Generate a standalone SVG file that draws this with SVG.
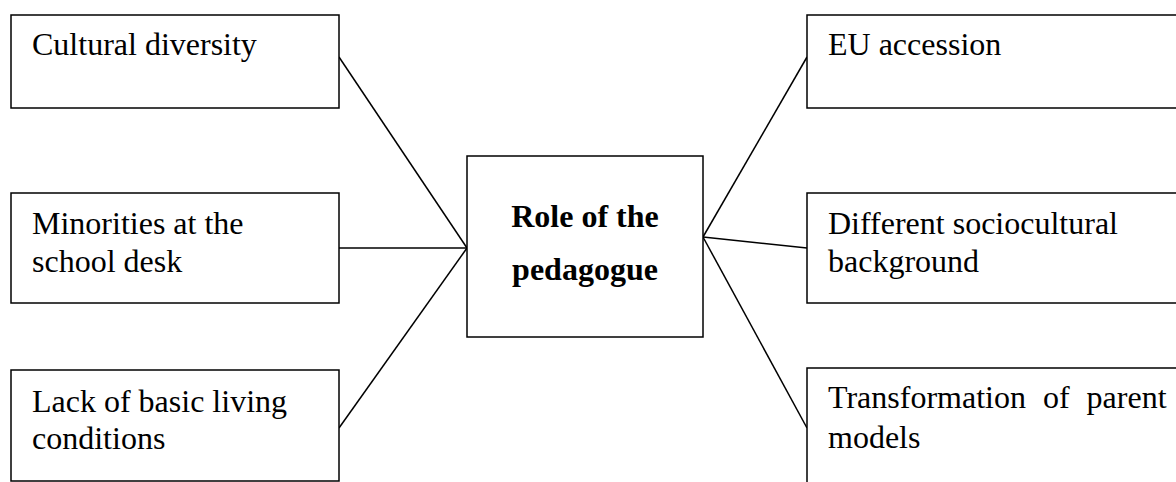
<svg xmlns="http://www.w3.org/2000/svg" width="1176" height="482" viewBox="0 0 1176 482">
<style>
.box{fill:#fff;stroke:#000;stroke-width:1.5}
.lbl{font-family:"Liberation Serif","Times New Roman",serif;font-size:32px;fill:#000}
.ctr{font-family:"Liberation Serif","Times New Roman",serif;font-size:32px;font-weight:bold;fill:#000;text-anchor:middle}
.con{stroke:#000;stroke-width:1.5;fill:none}
</style>
<rect width="1176" height="482" fill="#fff"/>
<g id="connectors">
<line class="con" x1="339" y1="57" x2="467" y2="248"/>
<line class="con" x1="339" y1="248" x2="467" y2="248"/>
<line class="con" x1="339" y1="428" x2="467" y2="248"/>
<line class="con" x1="703" y1="237" x2="807" y2="57"/>
<line class="con" x1="703" y1="237" x2="807" y2="248"/>
<line class="con" x1="703" y1="237" x2="807" y2="428"/>
</g>
<g id="n-cultural">
<rect class="box" x="11" y="15" width="328" height="93"/>
<text class="lbl" x="32" y="55">Cultural diversity</text>
</g>
<g id="n-minorities">
<rect class="box" x="11" y="193" width="328" height="110"/>
<text class="lbl" x="32" y="234">Minorities at the</text>
<text class="lbl" x="32" y="272">school desk</text>
</g>
<g id="n-lack">
<rect class="box" x="11" y="370" width="328" height="111"/>
<text class="lbl" x="32" y="412">Lack of basic living</text>
<text class="lbl" x="32" y="449">conditions</text>
</g>
<g id="n-center">
<rect class="box" x="467" y="156" width="236" height="181"/>
<text class="ctr" x="585" y="227">Role of the</text>
<text class="ctr" x="585" y="280">pedagogue</text>
</g>
<g id="n-eu">
<rect class="box" x="807" y="15" width="380" height="93"/>
<text class="lbl" x="828" y="55">EU accession</text>
</g>
<g id="n-different">
<rect class="box" x="807" y="193" width="380" height="110"/>
<text class="lbl" x="828" y="234">Different sociocultural</text>
<text class="lbl" x="828" y="272">background</text>
</g>
<g id="n-transformation">
<rect class="box" x="807" y="368" width="380" height="130"/>
<text class="lbl" x="828" y="408" word-spacing="9">Transformation of parent</text>
<text class="lbl" x="828" y="448">models</text>
</g>
</svg>
